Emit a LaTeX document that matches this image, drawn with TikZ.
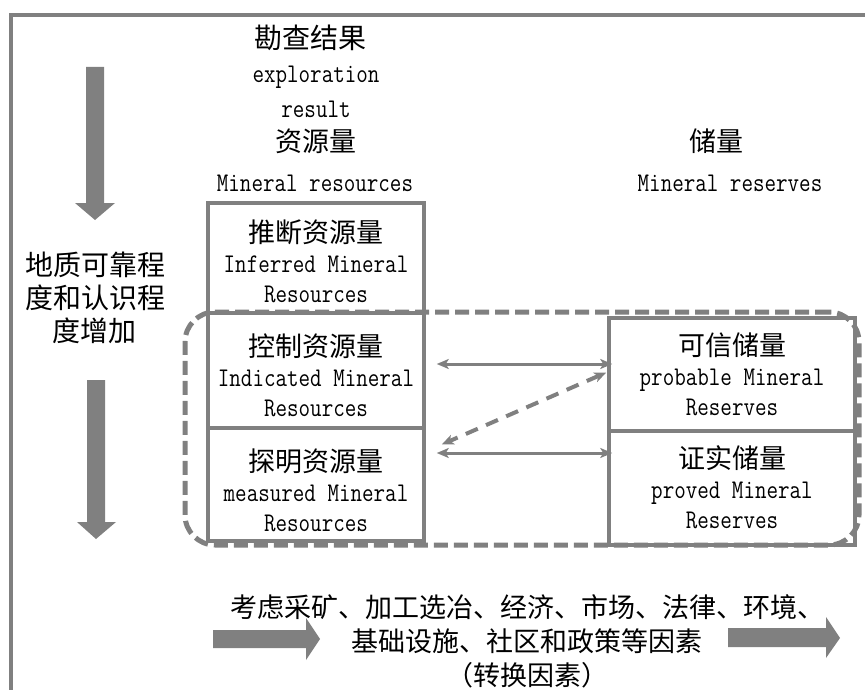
\documentclass[tikz,border=0pt]{standalone}
\usepackage{fontspec}
\newfontfamily\cjk{Noto Sans CJK SC}
\newfontfamily\lat[FakeStretch=0.83]{Latin Modern Mono}
\usetikzlibrary{arrows.meta,fit,calc}
\definecolor{gr}{RGB}{128,128,128}
\tikzset{
  cn/.style={font=\cjk\fontsize{27}{33}\selectfont, inner sep=0pt},
  en/.style={font=\lat\fontsize{27}{30}\selectfont, inner sep=0pt},
  boxtext/.style={font=\lat\fontsize{27}{30}\selectfont, align=center, inner sep=0pt},
  cell/.style={draw=gr, line width=3.5pt, inner sep=0pt},
  grpbox/.style={draw=gr, line width=5pt, dash pattern=on 14pt off 6pt, rounded corners=30pt, inner sep=0pt},
  dbl/.style={draw=gr, line width=3pt, arrows={Stealth[length=12pt,width=10pt,inset=3pt]-Stealth[length=12pt,width=10pt,inset=3pt]}},
  dbldash/.style={dbl, line width=4pt, dash pattern=on 13pt off 9pt},
  bigarrow/.style={fill=gr},
}
\newcommand{\cnline}[1]{{\cjk\fontsize{27}{30}\selectfont #1}}
\begin{document}
\begin{tikzpicture}[x=1pt,y=-1pt]
\useasboundingbox (0,0) rectangle (865,690);

% outer frame (top and left edges)
\draw[gr, line width=4pt] (11,690) -- (11,15.5) -- (865,15.5);

% column headings
\node[cn, font=\cjk\fontsize{28}{33}\selectfont] (hdr) at (310,38) {勘查结果};
\node[en] (hdrA) at (316,77) {exploration};
\node[en] (hdrB) at (316,109) {result};
\node[cn] (resCn) at (316,141) {资源量};
\node[en] (resEn) at (315,183) {Mineral resources};
\node[cn] (rsvCn) at (716,141) {储量};
\node[en] (rsvEn) at (730,183) {Mineral reserves};

% confidence direction
\fill[bigarrow] (86,67) -- (104,67) -- (104,203) -- (115,203) -- (95,220) -- (75,203) -- (86,203) -- cycle;
\node[cn, align=center, font=\cjk\fontsize{28}{33}\selectfont] (conf) at (95,298) {地质可靠程\\度和认识程\\度增加};
\fill[bigarrow] (87,380) -- (105,380) -- (105,522) -- (116,522) -- (96,539) -- (77,522) -- (87,522) -- cycle;

% resource boxes
\node[cell, fit={(208,203) (424,313)}] (inf) {};
\node[cell, fit={(208,313) (424,428)}] (ind) {};
\node[cell, fit={(208,428) (424,541)}] (mea) {};
\node[boxtext] (infT) at (316,261) {\cnline{推断资源量}\\Inferred Mineral\\Resources};
\node[boxtext] (indT) at (316,375) {\cnline{控制资源量}\\Indicated Mineral\\Resources};
\node[boxtext] (meaT) at (316,490) {\cnline{探明资源量}\\measured Mineral\\Resources};

% reserve boxes
\node[cell, fit={(609,318) (855,431)}] (prob) {};
\node[cell, fit={(609,431) (855,545)}] (prov) {};
\node[boxtext] (probT) at (732,374) {\cnline{可信储量}\\probable Mineral\\Reserves};
\node[boxtext] (provT) at (732,487) {\cnline{证实储量}\\proved Mineral\\Reserves};

% dashed group around indicated/measured and reserves
\node[grpbox, fit={(185,312) (859,545)}] (grp) {};

% conversions
\coordinate (r1) at (0,364);
\coordinate (r2) at (0,453);
\draw[dbl] ($(ind.east |- r1)+(11,0)$) -- ($(prob.west |- r1)+(5,0)$);
\draw[dbl] ($(mea.east |- r2)+(11,0)$) -- ($(prov.west |- r2)+(5,0)$);
\draw[dbldash] ($(prob.west)+(-1,-2)$) -- ($(mea.east)+(16,-40)$);

% modifying factors
\fill[bigarrow] (213,630) -- (306,630) -- (306,618) -- (320,639) -- (306,660) -- (306,648) -- (213,648) -- cycle;
\node[cn, align=center, font=\cjk\fontsize{27}{34}\selectfont] (fac) at (527,641) {考虑采矿、加工选冶、经济、市场、法律、环境、\\基础设施、社区和政策等因素\\（转换因素）};
\fill[bigarrow] (728,628) -- (826,628) -- (826,617) -- (840,638) -- (826,658) -- (826,647) -- (728,647) -- cycle;
\end{tikzpicture}
\end{document}
